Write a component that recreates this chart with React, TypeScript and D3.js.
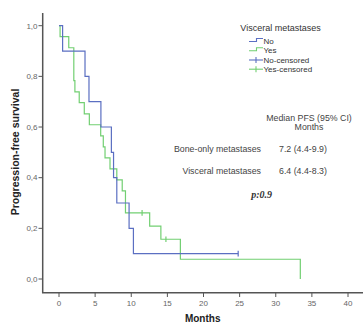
import React from "react";
import * as d3 from "d3";

const xTicks = [0, 5, 10, 15, 20, 25, 30, 35, 40];
const yTicks = [0, 0.2, 0.4, 0.6, 0.8, 1.0];

// "No" visceral metastases (bone-only)
const noTimes = [0, 0.5, 3.6, 4.15, 5.8, 7.25, 7.55, 8.0, 9.7, 10.3, 24.8];
const noSurv = [1, 0.9, 0.8, 0.7, 0.6, 0.5, 0.4, 0.3, 0.2, 0.1, 0.1];
const noCensorTimes = [24.8];
const noCensorSurv = [0.1];

// "Yes" visceral metastases
const yesTimes = [0, 0.15, 1.35, 2.05, 2.2, 2.8, 3.5, 4.2, 5.77, 6.13, 6.37, 7.06, 8.0, 8.75, 9.2, 12.55, 14.1, 16.8, 33.4];
const yesSurv = [1, 0.957, 0.913, 0.783, 0.739, 0.696, 0.652, 0.609, 0.565, 0.522, 0.478, 0.435, 0.391, 0.348, 0.261, 0.209, 0.157, 0.078, 0];
const yesCensorTimes = [11.5, 14.8];
const yesCensorSurv = [0.261, 0.157];

const legendLabels = ["No", "Yes", "No-censored", "Yes-censored"];
const tableRows = ["Bone-only metastases", "Visceral metastases"];
const tableValues = ["7.2 (4.4-9.9)", "6.4 (4.4-8.3)"];

const BLUE = "#5b6fc2";
const GREEN = "#72cf72";
const AXIS = "#555";

export default function App() {
  const x = d3.scaleLinear().domain([0, 40]).range([59, 348]);
  const y = d3.scaleLinear().domain([0, 1]).range([279, 25.7]);
  const line = d3
    .line<[number, number]>()
    .x((d) => x(d[0]))
    .y((d) => y(d[1]))
    .curve(d3.curveStepAfter);
  const noPts = noTimes.map((t, i) => [t, noSurv[i]] as [number, number]);
  const yesPts = yesTimes.map((t, i) => [t, yesSurv[i]] as [number, number]);
  const font = "Arial, 'Liberation Sans', sans-serif";

  const censor = (ts: number[], ss: number[], color: string) =>
    ts.map((t, i) => (
      <line
        key={i}
        x1={x(t)}
        x2={x(t)}
        y1={y(ss[i]) - 2.8}
        y2={y(ss[i]) + 2.8}
        stroke={color}
        strokeWidth={1.2}
      />
    ));

  const legX = 249;
  const legRowY = [41.5, 50.7, 60, 69.2];
  const legColors = [BLUE, GREEN, BLUE, GREEN];

  return (
    <svg
      width={363}
      height={323}
      style={{ position: "absolute", left: 0, top: 0, background: "#fff" }}
      fontFamily={font}
    >
      {/* axes */}
      <line x1={42.7} x2={42.7} y1={13} y2={293} stroke={AXIS} strokeWidth={1.5} />
      <line x1={42} x2={363} y1={292.7} y2={292.7} stroke={AXIS} strokeWidth={1.5} />
      {yTicks.map((t) => (
        <g key={t}>
          <line x1={38.5} x2={42.7} y1={y(t)} y2={y(t)} stroke={AXIS} strokeWidth={1} />
          <text x={37.5} y={y(t) + 2.8} fontSize={8} fill="#666" textAnchor="end">
            {d3.format(".1f")(t).replace(".", ",")}
          </text>
        </g>
      ))}
      {xTicks.map((t) => (
        <g key={t}>
          <line x1={x(t)} x2={x(t)} y1={292.7} y2={297} stroke={AXIS} strokeWidth={1} />
          <text x={x(t)} y={305.5} fontSize={8} fill="#666" textAnchor="middle">
            {t}
          </text>
        </g>
      ))}
      <text x={202.7} y={321.5} fontSize={10} fontWeight="bold" textAnchor="middle" fill="#222">
        Months
      </text>
      <text
        transform="translate(18.5,152) rotate(-90)"
        fontSize={10.5}
        fontWeight="bold"
        textAnchor="middle"
        fill="#222"
      >
        Progression-free survival
      </text>

      {/* curves */}
      <path d={line(yesPts) || ""} fill="none" stroke={GREEN} strokeWidth={1.2} />
      <path d={line(noPts) || ""} fill="none" stroke={BLUE} strokeWidth={1.2} />
      {censor(yesCensorTimes, yesCensorSurv, GREEN)}
      {censor(noCensorTimes, noCensorSurv, BLUE)}

      {/* legend */}
      <text x={280.5} y={30.5} fontSize={9} fill="#333" textAnchor="middle">
        Visceral metastases
      </text>
      {legendLabels.map((lab, i) => {
        const cy = legRowY[i];
        const c = legColors[i];
        return (
          <g key={lab}>
            {i < 2 ? (
              <path
                d={`M${legX},${cy} H${legX + 7.5} V${cy - 3} H${legX + 14}`}
                fill="none"
                stroke={c}
                strokeWidth={1.1}
              />
            ) : (
              <g>
                <line x1={legX} x2={legX + 14} y1={cy} y2={cy} stroke={c} strokeWidth={1.1} />
                <line x1={legX + 7} x2={legX + 7} y1={cy - 3} y2={cy + 3} stroke={c} strokeWidth={1.1} />
              </g>
            )}
            <text x={legX + 14.5} y={cy + 2.5} fontSize={8} fill="#333">
              {lab}
            </text>
          </g>
        );
      })}

      {/* median table */}
      <text x={309} y={120.8} fontSize={8.8} fill="#444" textAnchor="middle">
        Median PFS (95% CI)
      </text>
      <text x={309} y={129.8} fontSize={8.8} fill="#444" textAnchor="middle">
        Months
      </text>
      {tableRows.map((r, i) => (
        <g key={r}>
          <text x={261} y={152 + i * 22} fontSize={8.8} fill="#444" textAnchor="end">
            {r}
          </text>
          <text x={279} y={152 + i * 22} fontSize={8.8} fill="#444">
            {tableValues[i]}
          </text>
        </g>
      ))}
      <text
        x={261.7}
        y={197.5}
        fontSize={10}
        fontWeight="bold"
        fontStyle="italic"
        fontFamily="'Liberation Serif', 'DejaVu Serif', serif"
        textAnchor="middle"
        fill="#333"
      >
        p:0.9
      </text>
    </svg>
  );
}
